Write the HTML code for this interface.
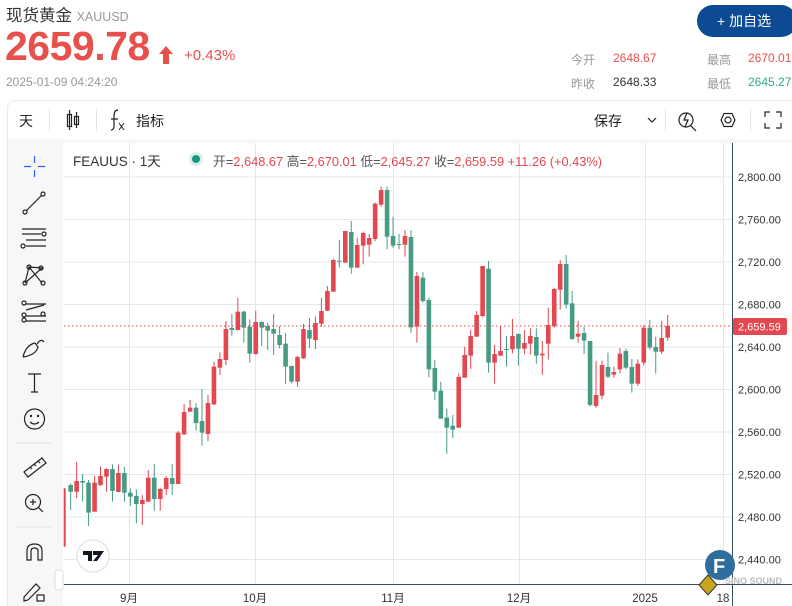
<!DOCTYPE html>
<html><head><meta charset="utf-8">
<style>
*{margin:0;padding:0;box-sizing:border-box}
html,body{width:792px;height:606px;overflow:hidden;background:#fff;font-family:"Liberation Sans","Noto Sans CJK SC",sans-serif;position:relative}
.a{position:absolute;white-space:nowrap}
</style></head><body>
<div class="a" style="left:6px;top:2px;font-size:16.5px;color:#333">现货黄金 <span style="font-size:12.5px;color:#999">XAUUSD</span></div>
<div class="a" style="left:5px;top:23px;font-size:41px;font-weight:bold;color:#e8504c;letter-spacing:-0.5px">2659.78</div>
<svg class="a" style="left:159px;top:46px" width="14" height="18"><path d="M7 0 L14 8 L10 8 L10 18 L4 18 L4 8 L0 8Z" fill="#e8504c"/></svg>
<div class="a" style="left:184px;top:47px;font-size:15px;color:#e8504c">+0.43%</div>
<div class="a" style="left:6px;top:75px;font-size:12px;color:#999">2025-01-09 04:24:20</div>
<div class="a" style="left:697px;top:5px;width:100px;height:32px;border-radius:16px;background:#0c4a93;color:#fff;font-size:14px;line-height:32px;padding-left:20px">+ 加自选</div>
<div class="a" style="left:571px;top:51px;font-size:12px;color:#999">今开</div>
<div class="a" style="left:613px;top:51px;font-size:12px;color:#e8504c">2648.67</div>
<div class="a" style="left:707px;top:51px;font-size:12px;color:#999">最高</div>
<div class="a" style="left:748px;top:51px;font-size:12px;color:#e8504c">2670.01</div>
<div class="a" style="left:571px;top:75px;font-size:12px;color:#999">昨收</div>
<div class="a" style="left:613px;top:75px;font-size:12px;color:#333">2648.33</div>
<div class="a" style="left:707px;top:75px;font-size:12px;color:#999">最低</div>
<div class="a" style="left:748px;top:75px;font-size:12px;color:#2bab8c">2645.27</div>

<div class="a" style="left:7px;top:100px;width:800px;height:520px;border:1px solid #e8eaee;border-radius:8px"></div>
<div class="a" style="left:8px;top:139px;width:55px;height:470px;background:#f7f7f8"></div>
<div class="a" style="left:8px;top:139px;width:790px;height:4px;background:#f7f7f8"></div>
<div class="a" style="left:19px;top:111px;font-size:14px;color:#222">天</div>
<div class="a" style="left:49px;top:109px;width:1px;height:22px;background:#e0e3e8"></div>
<div class="a" style="left:96px;top:109px;width:1px;height:22px;background:#e0e3e8"></div>
<div class="a" style="left:136px;top:111px;font-size:14px;color:#222">指标</div>
<div class="a" style="left:594px;top:111px;font-size:14px;color:#222">保存</div>
<div class="a" style="left:665px;top:109px;width:1px;height:22px;background:#e0e3e8"></div>
<div class="a" style="left:750px;top:109px;width:1px;height:22px;background:#e0e3e8"></div>
<svg class="a" style="left:0;top:0" width="792" height="606">
<g stroke="#222" fill="none" stroke-width="1.2">
<rect x="67.5" y="114.5" width="4" height="12"/><line x1="69.5" y1="110" x2="69.5" y2="130"/>
<rect x="74.5" y="116.5" width="4" height="8"/><line x1="76.5" y1="112" x2="76.5" y2="128"/>
<path d="M118 110 Q114 110 114 116 L114 126 Q114 130 111 130 M111 119 L118 119"/>
<path d="M119 123 L124 130 M124 123 L119 130" stroke-width="1"/>
<path d="M648 118 L652 122 L656 118"/>
<circle cx="686" cy="120" r="7"/><path d="M690 125 L696 131 M687 113 L684 120 L688 120 L685 127"/>
<path d="M721 120 L724 113.5 L732 113.5 L735 120 L732 126.5 L724 126.5Z"/><circle cx="728" cy="120" r="3"/>
<path d="M765 117 V112 H770 M776 112 H781 V117 M781 123 V128 H776 M770 128 H765 V123"/>
</g>
<g stroke="#e3e8ef" stroke-width="1" id="grid"></g>
<g id="cd"></g>
<line x1="64" y1="326" x2="732" y2="326" stroke="#e3474f" stroke-dasharray="1.5,2.5" stroke-width="1"/>
<line x1="732.5" y1="143" x2="732.5" y2="606" stroke="#3b4a6b"/>
<line x1="64" y1="584.5" x2="792" y2="584.5" stroke="#3b4a6b"/>
<rect x="733" y="318" width="54" height="17" rx="2" fill="#e3474f"/>
<text x="738" y="330.5" font-size="11" fill="#fff" font-family="Liberation Sans">2,659.59</text>
<g font-size="11" fill="#333" font-family="Liberation Sans" id="yl"></g>
<g font-size="11.5" fill="#333" font-family="Liberation Sans,Noto Sans CJK SC" text-anchor="middle">
<text x="129" y="602">9月</text><text x="255" y="602">10月</text><text x="393" y="602">11月</text><text x="519" y="602">12月</text><text x="645" y="602">2025</text><text x="723" y="602">18</text></g>
<g stroke="#222" fill="none" stroke-width="1.2">
<path d="M24 166.5 H31 M38 166.5 H45 M34.5 156 V163 M34.5 170 V177" stroke="#2962ff"/>
<line x1="26" y1="211" x2="42" y2="195"/><circle cx="25" cy="212" r="2"/><circle cx="43" cy="194" r="2"/>
<path d="M22 229 H46 M22 234 H41 M26 240 H46 M26 246 H46"/><circle cx="44" cy="234" r="2"/><circle cx="23" cy="246" r="2"/>
<path d="M25 283 L29 267 L42 283 M29 267 L42 268 L25 283"/><circle cx="25" cy="283" r="2"/><circle cx="29" cy="267" r="2"/><circle cx="41" cy="268" r="2"/><circle cx="43" cy="283" r="2"/>
<path d="M26 304 H46 M26 316 H46 M26 321 H46 M26 310 L44 305" /><circle cx="24" cy="303" r="2"/><circle cx="24" cy="315" r="2"/><circle cx="24" cy="320" r="2"/><circle cx="43" cy="314" r="2"/>
<path d="M23 357 Q26 345 35 343 L38 347 Q36 355 23 357 M37 344 Q41 338 44 342"/>
<path d="M28 374 H41 M34.5 374 V392 M31 392 H38"/>
<circle cx="34.5" cy="419" r="10"/><circle cx="31" cy="416" r="0.6"/><circle cx="38" cy="416" r="0.6"/><path d="M30 422 Q34.5 426 39 422"/>
<path d="M24 472 L42 458 L46 463 L28 477Z M30 467 L32 469 M34 464 L36 466 M38 461 L40 463"/>
<circle cx="33" cy="502" r="7.5"/><path d="M38.5 507.5 L43 512 M30 502 H36 M33 499 V505"/>
<path d="M27 560 V551 Q27 544 34.5 544 Q42 544 42 551 V560 H38 V551 Q38 548 34.5 548 Q31 548 31 551 V560Z"/>
<path d="M24 597 L36 584 L40 588 L28 600 L24 601Z"/><rect x="37" y="595" width="7" height="6"/>
</g>
<line x1="16" y1="443" x2="52" y2="443" stroke="#dfe1e5"/>
<line x1="16" y1="527" x2="52" y2="527" stroke="#dfe1e5"/>
<rect x="55" y="570" width="8" height="20" rx="3" fill="#fff" stroke="#ddd"/>
<circle cx="93" cy="556" r="16" fill="#fff" stroke="#e6e6e6" stroke-width="1.5"/>
<path d="M83 551 H92 V561 H88 V555 H83Z M93 551 H104 L97 561 H93 L98 555 H93Z" fill="#131722"/>
<circle cx="196" cy="159" r="7" fill="#d9f0ea"/><circle cx="196" cy="159" r="4" fill="#1a9780"/>
<circle cx="720" cy="565" r="15" fill="#2f6e9c"/>
<text x="713" y="573" font-size="20" font-weight="bold" fill="#fff" font-family="Liberation Sans">F</text>
<text x="725" y="584" font-size="9" font-weight="bold" fill="#bbb" font-family="Liberation Sans">SINO SOUND</text>
<path d="M708 575 L717 585 L708 595 L699 585Z" fill="#c8a520" stroke="#333"/>
</svg>
<div class="a" style="left:73px;top:150px;font-size:13.5px;color:#333">FEAUUS · 1天</div>
<div class="a" style="left:213px;top:151px;font-size:12.8px;color:#555">开=<span style="color:#e3474f">2,648.67</span> 高=<span style="color:#e3474f">2,670.01</span> 低=<span style="color:#e3474f">2,645.27</span> 收=<span style="color:#e3474f">2,659.59</span> <span style="color:#e3474f">+11.26 (+0.43%)</span></div>
<script>
var NS="http://www.w3.org/2000/svg";
function el(p,t,a){var e=document.createElementNS(NS,t);for(var k in a)e.setAttribute(k,a[k]);p.appendChild(e);return e;}
var g=document.getElementById('grid'),yl=document.getElementById('yl');
var ys=[177,219.5,262,304.5,347,389.5,432,474.5,517,559.5],lb=["2,800.00","2,760.00","2,720.00","2,680.00","2,640.00","2,600.00","2,560.00","2,520.00","2,480.00","2,440.00"];
ys.forEach(function(y,i){el(g,'line',{x1:64,x2:732,y1:y,y2:y});var t=el(yl,'text',{x:738,y:y+4});t.textContent=lb[i];});
[129.5,255.5,393.5,519.5,645.5,723.5].forEach(function(x){el(g,'line',{x1:x,x2:x,y1:143,y2:584});});
var D=[[1,985,1160,985,1160],[0,975,995,970,1050],[1,963,995,905,1015],[0,963,968,942,1025],[0,968,1058,960,1098],[1,968,1055,948,1055],[1,948,975,920,978],[1,927,950,925,995],[0,927,993,913,1025],[1,939,996,914,996],[0,939,998,921,1025],[0,998,1010,985,1038],[0,1008,1032,988,1090],[1,1020,1032,1005,1095],[1,953,1025,930,1025],[0,953,1017,912,1052],[1,987,1017,983,1052],[1,954,987,948,1005],[0,954,972,912,1005],[1,818,972,813,972],[1,756,823,732,825],[1,743,755,720,755],[0,743,789,730,812],[0,783,818,687,857],[1,729,822,705,843],[1,620,733,605,735],[1,597,623,577,645],[1,507,600,483,615],[0,504,510,462,527],[1,455,510,413,512],[0,455,503,452,548],[0,500,581,478,608],[1,486,582,452,584],[0,486,503,484,558],[0,498,512,488,570],[0,507,521,462,585],[0,525,555,498,566],[0,551,620,519,672],[0,618,665,617,670],[1,591,665,588,680],[1,507,595,492,597],[0,510,536,474,564],[1,489,540,469,567],[1,453,491,413,500],[1,393,452,378,453],[1,300,395,296,395],[0,302,304,240,323],[1,213,308,213,308],[0,216,323,183,341],[1,255,323,233,323],[1,219,257,215,313],[1,234,254,222,290],[1,131,237,128,243],[1,90,134,80,140],[0,90,230,80,268],[0,228,257,170,263],[0,252,254,222,268],[1,228,254,210,290],[0,231,502,210,518],[1,348,500,336,548],
[0,353,423,337,428],[0,420,628,413,652],[0,624,695,600,720],[0,692,776,665,776],[0,773,803,746,881],[0,797,809,765,834],[1,651,803,640,803],[1,585,653,560,653],[1,528,587,510,627],[1,465,530,453,530],[1,318,468,318,472],[0,326,608,303,638],[1,582,608,555,671],[1,573,587,500,588],[0,567,569,528,620],[1,528,568,477,580],[0,522,566,520,617],[1,549,566,510,583],[1,528,551,505,584],[0,531,587,505,611],[1,581,586,543,644],[1,495,551,443,599],[1,387,498,383,503],[1,312,389,300,449],[0,312,434,285,446],[0,430,537,393,540],[1,521,530,482,548],[0,519,542,502,582],[0,543,735,543,740],[1,705,738,603,743],[1,615,707,602,718],[0,621,650,578,655],[1,636,644,620,653],[1,581,628,564,640],[0,573,623,566,628],[0,621,671,597,698],[1,611,671,598,678],[1,503,608,495,617],[0,503,563,480,569],[0,561,575,530,640],[1,534,575,483,582],[1,498,533,465,542]];
var c=document.getElementById('cd');
D.forEach(function(d,i){var x=64.7+i*5.97,col=d[0]?'#e3474f':'#479b85';
 var y=function(v){return v/3+160;};
 el(c,'line',{x1:x,x2:x,y1:y(d[3]),y2:Math.min(y(d[4]),584),stroke:col,'stroke-width':1});
 var t=y(d[1]),b=Math.min(y(d[2]),584);if(b-t<1)b=t+1;
 var w=i==0?2:4.6;el(c,'rect',{x:i==0?x-1:x-w/2,y:t,width:w,height:b-t,fill:col});});
</script>
</body></html>
